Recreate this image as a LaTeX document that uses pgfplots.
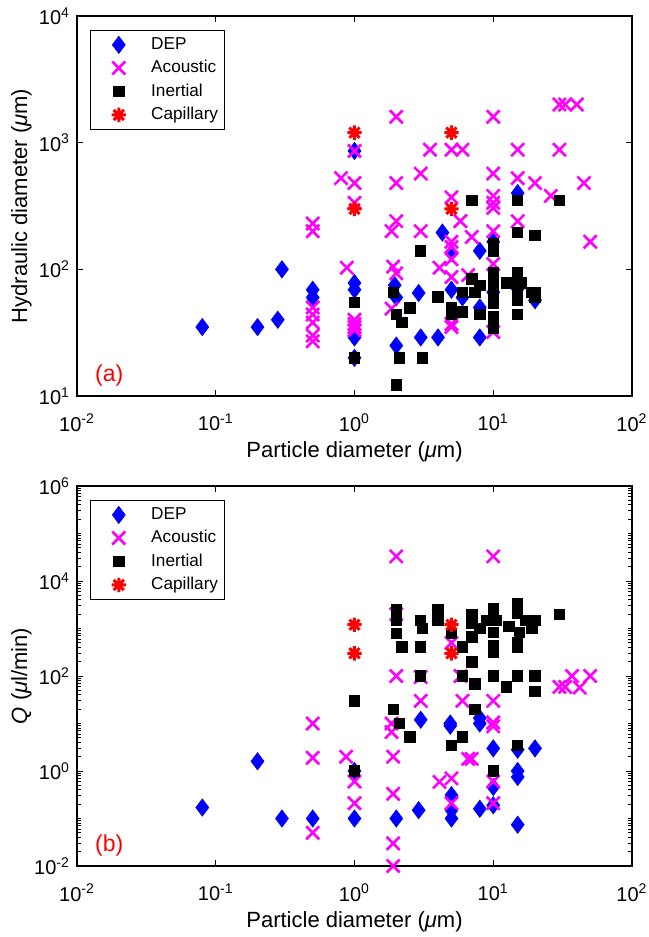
\documentclass[border=0pt]{standalone}
\usepackage{fontspec}
\setmainfont{Liberation Sans}
\usepackage{pgfplots}
\pgfplotsset{compat=1.18}
\definecolor{mblue}{RGB}{0,0,255}
\definecolor{mmag}{RGB}{255,0,255}
\definecolor{mred}{RGB}{255,0,0}

% MATLAB-style '*' : plus and cross together
\pgfdeclareplotmark{mstar}{%
  \pgfpathmoveto{\pgfqpoint{-\pgfplotmarksize}{0pt}}\pgfpathlineto{\pgfqpoint{\pgfplotmarksize}{0pt}}%
  \pgfpathmoveto{\pgfqpoint{0pt}{-\pgfplotmarksize}}\pgfpathlineto{\pgfqpoint{0pt}{\pgfplotmarksize}}%
  \pgfpathmoveto{\pgfqpoint{-.7071\pgfplotmarksize}{-.7071\pgfplotmarksize}}\pgfpathlineto{\pgfqpoint{.7071\pgfplotmarksize}{.7071\pgfplotmarksize}}%
  \pgfpathmoveto{\pgfqpoint{-.7071\pgfplotmarksize}{.7071\pgfplotmarksize}}\pgfpathlineto{\pgfqpoint{.7071\pgfplotmarksize}{-.7071\pgfplotmarksize}}%
  \pgfusepathqstroke}

\pgfplotsset{
  legimg/.style={legend image code/.code={%
    \path (0pt,-4pt) (27pt,4pt);
    \draw[##1] plot coordinates {(13pt,0pt)};}},
  dep/.style={only marks, mark=diamond*, mark size=4.25pt, color=mblue, mark options={fill=mblue}, legimg},
  acu/.style={only marks, mark=x, mark size=4.6pt, color=mmag, mark options={line width=1.3pt}, legimg},
  ine/.style={only marks, mark=square*, mark size=2.6pt, color=black, legimg},
  cap/.style={only marks, mark=mstar, mark size=3.6pt, color=mred, mark options={line width=1.5pt}, legimg},
}
\newcommand\expolabel{10\textsuperscript{\pgfmathtruncatemacro\e{round(\tick)}\e}}

\begin{document}
\begin{tikzpicture}
\useasboundingbox (0,0) rectangle (324pt,468.5pt);

% ---------------- (a) hydraulic diameter ----------------
\begin{loglogaxis}[at={(38.5pt,270.5pt)}, anchor=south west,
  scale only axis, width=277.5pt, height=190pt,
  log basis x=10, log basis y=10,
  xmin=1e-2, xmax=1e2, ymin=10, ymax=1e4,
  xtick={1e-2,1e-1,1,1e1,1e2}, ytick={1e1,1e2,1e3,1e4},
  xticklabel={\expolabel}, yticklabel={\expolabel},
  xticklabel style={yshift=-5.5pt},
  axis line style={line width=0.6pt},
  tick style={black, line width=0.5pt},
  major tick length=3.2pt, minor tick length=1.8pt,
  tick align=inside, tick pos=both,
  tick label style={font=\fontsize{10}{12}\selectfont},
  label style={font=\fontsize{11}{13}\selectfont},
  xlabel={Particle diameter (\textit{μ}m)},
  xlabel style={at={(axis description cs:0.5,-0.147)}, anchor=center},
  ylabel={Hydraulic diameter (\textit{μ}m)},
  ylabel style={at={(axis description cs:-0.1,0.5)}, anchor=center},
  legend style={at={(axis description cs:0.0234,0.963)}, anchor=north west,
    draw=black, line width=0.4pt, font=\fontsize{8.6}{10}\selectfont,
    inner xsep=1pt, inner ysep=1.5pt, nodes={inner ysep=2pt}},
  legend cell align=left]
\addplot[dep] coordinates {
 (0.08,35) (0.2,35) (0.28,40) (0.3,100) (0.5,69) (0.5,60)
 (1,860) (1,78) (1,69) (1,29) (1,20) (1.95,75) (2,60) (2,25)
 (2.9,65) (3,29) (4,29) (4.3,195) (5,135) (5,69) (6,60)
 (8,140) (8,50) (8,29) (10,165) (10,66) (15,400) (15,70) (20,57)
};
\addlegendentry{DEP}
\addplot[acu] coordinates {
 (0.5,230) (0.5,200) (0.5,50) (0.5,44) (0.5,38) (0.5,30) (0.5,27)
 (0.8,525) (0.88,103) (1,860) (1,480) (1,335) (1,40) (1,37) (1,35) (1,33)
 (1.85,200) (1.85,49) (1.9,105) (2,1600) (2,480) (2,240) (2,93)
 (3,570) (3,200) (3.5,880) (4.1,103) (5,880) (5,370) (5,165) (5,150)
 (5,120) (5,87) (5,37) (5,35) (5.8,240) (6,880) (6.6,90) (7,180)
 (10,1600) (10,570) (10,380) (10,335) (10,305) (10,200) (10,110) (10,32)
 (15,880) (15,525) (15,240) (20,480) (26,380) (30,880)
 (30,2000) (33,2000) (40,2000) (45,480) (50,165)
};
\addlegendentry{Acoustic}
\addplot[ine] coordinates {
 (1,55) (1,20) (1.9,66) (2,44) (2,12.2) (2.1,20) (2.2,38) (2.5,49.5)
 (3,140) (3.1,20) (4,60.5) (5,49.5) (5,44) (6,66) (6,46)
 (7,350) (7,84) (7.4,66) (8,75) (8,44)
 (10,160) (10,140) (10,95) (10,79) (10,71) (10,63) (10,54) (10,42) (10,34.5)
 (12.5,78) (15,350) (15,195) (15,95) (15,78) (15,69) (15,57) (15,44)
 (16,78) (19,66) (20,185) (20,60) (20,66) (30,350)
};
\addlegendentry{Inertial}
\addplot[cap] coordinates {(1,1200) (1,300) (5,1200) (5,300)};
\addlegendentry{Capillary}
\node[anchor=west, text=mred, font=\fontsize{11.5}{13}\selectfont] at (axis description cs:0.02,0.055) {(a)};
\end{loglogaxis}

% ---------------- (b) flow rate ----------------
\begin{loglogaxis}[at={(38.5pt,35.5pt)}, anchor=south west,
  scale only axis, width=277.5pt, height=190pt,
  log basis x=10, log basis y=10,
  xmin=1e-2, xmax=1e2, ymin=1e-2, ymax=1e6,
  xtick={1e-2,1e-1,1,1e1,1e2}, ytick={1e-2,1,1e2,1e4,1e6},
  minor ytick={2e-2,3e-2,4e-2,5e-2,6e-2,7e-2,8e-2,9e-2,
    1e-1,2e-1,3e-1,4e-1,5e-1,6e-1,7e-1,8e-1,9e-1,
    2,3,4,5,6,7,8,9,
    10,20,30,40,50,60,70,80,90,
    200,300,400,500,600,700,800,900,
    1e3,2e3,3e3,4e3,5e3,6e3,7e3,8e3,9e3,
    2e4,3e4,4e4,5e4,6e4,7e4,8e4,9e4,
    1e5,2e5,3e5,4e5,5e5,6e5,7e5,8e5,9e5},
  xticklabel={\expolabel}, yticklabel={\expolabel},
  xticklabel style={yshift=-5.5pt},
  axis line style={line width=0.6pt},
  tick style={black, line width=0.5pt},
  major tick length=3.2pt, minor tick length=1.8pt,
  tick align=inside, tick pos=both,
  tick label style={font=\fontsize{10}{12}\selectfont},
  label style={font=\fontsize{11}{13}\selectfont},
  xlabel={Particle diameter (\textit{μ}m)},
  xlabel style={at={(axis description cs:0.5,-0.147)}, anchor=center},
  ylabel={\textit{Q} (\textit{μ}l/min)},
  ylabel style={at={(axis description cs:-0.1,0.5)}, anchor=center},
  legend style={at={(axis description cs:0.0234,0.963)}, anchor=north west,
    draw=black, line width=0.4pt, font=\fontsize{8.6}{10}\selectfont,
    inner xsep=1pt, inner ysep=1.5pt, nodes={inner ysep=2pt}},
  legend cell align=left]
\addplot[dep] coordinates {
 (0.08,0.17) (0.2,1.6) (0.3,0.1) (0.5,0.1) (1,0.1) (1,1) (2,0.1)
 (2.9,0.15) (3,12) (4.9,10) (4.9,9) (5,0.31) (5,0.15) (5,0.1)
 (8,13) (8,10) (8,0.16) (10,3) (10,0.46) (10,0.19)
 (15,2.8) (15,1) (15,0.75) (15,0.074) (20,3)
};
\addlegendentry{DEP}
\addplot[acu] coordinates {
 (0.5,10) (0.5,1.9) (0.5,0.05) (0.87,2) (1,0.6) (1,0.21)
 (1.85,10) (1.85,6.6) (1.9,2) (1.9,0.33) (1.9,0.03) (1.9,0.01)
 (2,100) (2,33000) (2,2000) (3,95) (3,30) (4.1,0.59)
 (5,500) (5,0.7) (5,0.21) (5.8,100) (6,30) (6.6,1.8) (7,1.8)
 (10,33000) (10,30) (10,10.5) (10,8.7) (10,0.6) (10,0.21)
 (30,59) (33,59) (37,100) (42,57) (50,100)
};
\addlegendentry{Acoustic}
\addplot[ine] coordinates {
 (1,30) (1,1) (1.9,20) (2,2500) (2,1500) (2,800) (2.1,10) (2.2,410) (2.5,5.2)
 (3,1500) (3.1,1000) (3,410) (3,100) (4,2500) (4,1500)
 (5,800) (5,3.5) (6,410) (6,100) (6,5.2)
 (7,2000) (7,1300) (7,660) (7,200) (7.4,68) (7.4,20) (8,1000) (9,1500)
 (10,2600) (10,1500) (10.5,1500) (10,830) (10,445) (10,320) (10,100) (10,1)
 (12.5,59) (13,1100) (15,3400) (15,2100) (15.5,830) (15,500) (15,400)
 (15,100) (15,3.5) (17,1500) (19,1000) (20,1500) (20,100) (20,48) (30,2000)
};
\addlegendentry{Inertial}
\addplot[cap] coordinates {(1,1200) (1,300) (5,1200) (5,300)};
\addlegendentry{Capillary}
\node[anchor=west, text=mred, font=\fontsize{11.5}{13}\selectfont] at (axis description cs:0.02,0.055) {(b)};
\end{loglogaxis}
\end{tikzpicture}
\end{document}
